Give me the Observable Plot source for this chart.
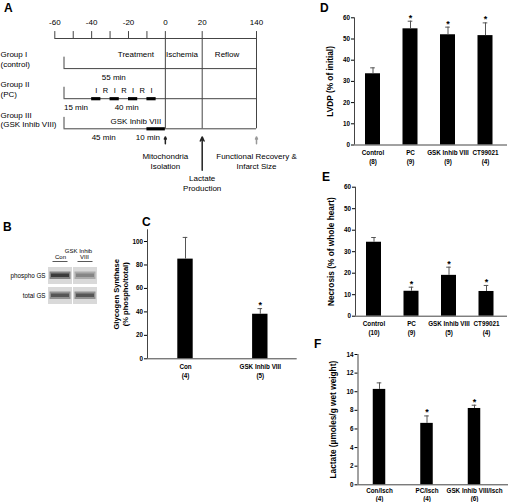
<!DOCTYPE html>
<html><head><meta charset="utf-8">
<script src="https://cdn.jsdelivr.net/npm/d3@7"></script>
<script src="https://cdn.jsdelivr.net/npm/@observablehq/plot@0.6"></script>
<style>
html,body{margin:0;padding:0;background:#fff;}
#fig{position:relative;width:508px;height:502px;overflow:hidden;background:#fff;font-family:"Liberation Sans",Arial,Helvetica,sans-serif;}
.letter{position:absolute;font:bold 12px/12px "Liberation Sans",Arial,sans-serif;color:#000;}
</style></head><body><div id="fig"></div>
<script>
// ---------- Panel A: protocol timeline ----------
const timelineTicks = [-60, -50, -40, -30, -20, -10, 0, 20, 140];
const timelineLabels = [-60, -40, -20, 0, 20, 140];
const phaseLines = [0, 20, 140];
const groupNames = ["Group I\n(control)", "Group II\n(PC)", "Group III\n(GSK Inhib VIII)"];
const groupRows = [1, 2, 3];
const protocolStart = -55, protocolEnd = 140;
const pcIschemiaStarts = [-40, -30, -20, -10];
const pcCycleLabels = ["I", "R", "I", "R", "I", "R", "I"];
const pcCycleTimes = [-37.5, -32.5, -27.5, -22.5, -17.5, -12.5, -7.5];
const gskStart = -10, gskEnd = 0;
const phaseNames = ["Treatment", "Ischemia", "Reflow"];
const phaseTimes = [-16, 9, 75];
const durationLabels = ["55 min", "15 min", "40 min", "45 min", "10 min"];
const durationTimes = [-28, -48.5, -21, -33.5, -9.5];
const durationRows = [1, 2, 2, 3, 3];
const endpointLabels = ["Mitochondria\nIsolation", "Lactate\nProduction", "Functional Recovery &\nInfarct Size"];
const endpointTimes = [0, 20, 140];

// ---------- Panel B: western blot ----------
const blotLanes = ["Con", "VIII"];
const blotRows = ["phospho GS", "total GS"];
const phosphoGS = [0.85, 0.45];
const totalGS = [0.7, 0.7];

// ---------- Panel C ----------
const gsCats = ["Con", "GSK Inhib VIII"];
const gsN = [4, 5];
const gsMean = [85, 38];
const gsSem = [18.5, 4.8];
const gsSig = [false, true];
const gsTicks = [0, 20, 40, 60, 80, 100];

// ---------- Panel D ----------
const lvdpCats = ["Control", "PC", "GSK Inhib VIII", "CT99021"];
const lvdpN = [8, 9, 9, 4];
const lvdpMean = [33.6, 54.8, 52, 51.6];
const lvdpSem = [2.8, 3.6, 3.6, 6];
const lvdpSig = [false, true, true, true];
const lvdpTicks = [0, 10, 20, 30, 40, 50, 60];

// ---------- Panel E ----------
const necCats = ["Control", "PC", "GSK Inhib VIII", "CT99021"];
const necN = [10, 9, 5, 4];
const necMean = [34.4, 11.6, 19, 11.5];
const necSem = [2.2, 1.9, 3.8, 2.8];
const necSig = [false, true, true, true];
const necTicks = [0, 10, 20, 30, 40, 50, 60];

// ---------- Panel F ----------
const lacCats = ["Con/Isch", "PC/Isch", "GSK Inhib VIII/Isch"];
const lacN = [4, 4, 6];
const lacMean = [10.25, 6.6, 8.2];
const lacSem = [0.7, 0.8, 0.35];
const lacSig = [false, true, true];
const lacTicks = [0, 2, 4, 6, 8, 10, 12, 14];

const FONT = '"Liberation Sans", Arial, Helvetica, sans-serif';
const fig = document.getElementById("fig");
function place(node, left, top) {
  node.style.position = "absolute";
  node.style.left = left + "px";
  node.style.top = top + "px";
  fig.appendChild(node);
}
function letter(t, left, top) {
  const d = document.createElement("div");
  d.className = "letter"; d.textContent = t;
  d.style.left = left + "px"; d.style.top = top + "px";
  fig.appendChild(d);
}

// ----- Panel A -----
{
  const lc = "#444";
  const k = 0.2456; // reflow period drawn compressed (broken time axis)
  const pcBars = pcIschemiaStarts.map(s => ({s, e: s + 5}));
  const durs = durationLabels.map((t, i) => ({t, x: durationTimes[i], r: durationRows[i]}));
  const groups = groupNames.map((t, i) => ({t, r: groupRows[i]}));
  const ends = endpointLabels.map((t, i) => ({t, x: endpointTimes[i], i}));
  const chart = Plot.plot({
    width: 318, height: 200,
    marginLeft: 0, marginRight: 0, marginTop: 0, marginBottom: 0,
    style: {fontFamily: FONT, fontSize: "8px", background: "none", color: "#000", overflow: "visible"},
    x: {type: "linear", transform: t => (t <= 20 ? t : 20 + (t - 20) * k), domain: [-60, 20 + 120 * k], range: [54.3, 256], axis: null},
    y: {type: "linear", domain: [0, 3], range: [38, 128.3], axis: null},
    marks: [
      Plot.ruleY([0], {x1: -60, x2: 140, stroke: lc}),
      Plot.ruleX(timelineTicks, {x: d => d, y1: 0, y2: -0.23, stroke: lc}),
      Plot.text(timelineLabels, {x: d => d, y: 0, dy: -16.5, text: d => String(d), fontSize: 8}),
      Plot.ruleX(phaseLines, {x: d => d, y1: 0, y2: 3, stroke: lc}),
      Plot.ruleY(groupRows, {y: d => d, x1: protocolStart, x2: protocolEnd, stroke: lc}),
      Plot.ruleX(groupRows, {x: protocolStart, y1: d => d - 0.38, y2: d => d, stroke: lc}),
      Plot.ruleY(pcBars, {y: 2, x1: "s", x2: "e", stroke: "#000", strokeWidth: 3.2}),
      Plot.ruleY([{s: gskStart, e: gskEnd}], {y: 3, x1: "s", x2: "e", stroke: "#000", strokeWidth: 3.2}),
      Plot.text(pcCycleLabels, {x: (d, i) => pcCycleTimes[i], y: 2, dy: -8.5, text: d => d, fontSize: 7.5}),
      Plot.text(phaseNames, {x: (d, i) => phaseTimes[i], y: 1, dy: -14.5, text: d => d, fontSize: 8}),
      Plot.text(durs, {x: "x", y: "r", dy: 8.5, text: "t", fontSize: 8}),
      Plot.text(["GSK Inhib VIII"], {x: -16, y: 3, dy: -7.5, text: d => d, fontSize: 8}),
      Plot.text(groups, {y: "r", frameAnchor: "left", textAnchor: "start", dy: -9.5, text: "t", fontSize: 8, lineHeight: 1.25}),
      Plot.arrow(ends.filter(d => d.i === 0), {x1: "x", x2: "x", y1: 3.5, y2: 3.27, stroke: "#222", headLength: 4.5, headAngle: 50}),
      Plot.arrow(ends.filter(d => d.i === 1), {x1: "x", x2: "x", y1: 4.38, y2: 3.27, stroke: "#222", headLength: 4.5, headAngle: 50}),
      Plot.arrow(ends.filter(d => d.i === 2), {x1: "x", x2: "x", y1: 3.5, y2: 3.27, stroke: "#999", headLength: 4.5, headAngle: 50}),
      Plot.text(ends.filter(d => d.i !== 1), {x: "x", y: 3, dy: 23.5, text: "t", lineAnchor: "top", lineHeight: 1.25, fontSize: 8}),
      Plot.text(ends.filter(d => d.i === 1), {x: "x", y: 3, dy: 45.5, text: "t", lineAnchor: "top", lineHeight: 1.25, fontSize: 8})
    ]
  });
  place(chart, 0, 0);
}

// ----- Panel B -----
{
  const cells = [];
  blotLanes.forEach((lane, i) => {
    cells.push({lane, row: "phospho GS", v: phosphoGS[i]});
    cells.push({lane, row: "total GS", v: totalGS[i]});
  });
  const shade = d3.interpolateRgb("#dadada", "#1e1e1e");
  const chart = Plot.plot({
    width: 110, height: 74,
    marginLeft: 0, marginRight: 0, marginTop: 0, marginBottom: 0,
    style: {fontFamily: FONT, fontSize: "6px", background: "none", color: "#000", overflow: "visible"},
    x: {type: "band", domain: blotLanes, range: [48, 97], paddingInner: 0.04, paddingOuter: 0, axis: null},
    y: {type: "band", domain: ["hdr", ...blotRows], range: [10.5, 69], paddingInner: 0.15, paddingOuter: 0, axis: null},
    marks: [
      Plot.cell(cells, {x: "lane", y: "row", fill: "#d9d9d9"}),
      Plot.cell(cells, {x: "lane", y: "row", fill: d => shade(d.v * 0.55), insetTop: 4.5, insetBottom: 5, insetLeft: 1.5, insetRight: 1.5}),
      Plot.cell(cells, {x: "lane", y: "row", fill: d => shade(d.v), insetTop: 6.5, insetBottom: 7, insetLeft: 3, insetRight: 3}),
      Plot.cell(blotLanes, {x: d => d, y: () => "hdr", fill: "#111", insetTop: 14.3, insetBottom: 2, insetLeft: 4.5, insetRight: 4.5}),
      Plot.text(["Con"], {x: d => d, y: () => "hdr", dy: 1.5, text: d => d, fontSize: 6}),
      Plot.text(["VIII"], {x: () => "VIII", y: () => "hdr", dy: 1.5, dx: -1, text: d => d, fontSize: 6}),
      Plot.text(["GSK Inhib"], {x: () => "VIII", y: () => "hdr", dy: -5.3, dx: -7, text: d => d, fontSize: 6}),
      Plot.text(blotRows, {y: d => d, frameAnchor: "left", dx: 45, textAnchor: "end", text: d => d, fontSize: 6.3})
    ]
  });
  place(chart, 0, 236);
}

// ----- Bar panels helper -----
function barPanel(o) {
  const mL = o.axisX - o.left, mR = o.left + o.width - o.axisRight;
  const mT = o.yTop - o.top, mB = o.top + o.height - o.y0;
  const x0 = (o.axisX - o.firstCenter) / o.step, x1 = (o.axisRight - o.firstCenter) / o.step;
  const hw = o.barW / 2 / o.step, cap = 2.3 / o.step;
  const data = o.cats.map((c, i) => ({i, cat: c, n: o.n[i], m: o.mean[i], e: o.mean[i] + o.sem[i], s: o.sig[i]}));
  const chart = Plot.plot({
    width: o.width, height: o.height,
    marginLeft: mL, marginRight: mR, marginTop: mT, marginBottom: mB,
    style: {fontFamily: FONT, fontSize: "6.3px", fontWeight: "bold", background: "none", color: "#000", overflow: "visible"},
    x: {domain: [x0, x1], axis: null},
    y: {domain: [0, o.yMax], ticks: o.ticks, tickSize: 3, tickPadding: 1.5, label: null, tickFormat: d => String(d)},
    marks: [
      Plot.rect(data, {x1: d => d.i - hw, x2: d => d.i + hw, y1: 0, y2: "m", fill: "#000"}),
      Plot.ruleX(data, {x: "i", y1: "m", y2: "e", stroke: "#555"}),
      Plot.ruleY(data, {y: "e", x1: d => d.i - cap, x2: d => d.i + cap, stroke: "#555"}),
      Plot.text(data.filter(d => d.s), {x: "i", y: "e", text: () => "*", dy: -3.5, fontSize: 9}),
      Plot.ruleX([x0], {y1: 0, y2: o.yMax, stroke: "#444"}),
      Plot.ruleY([0], {stroke: "#444"}),
      Plot.text(data, {x: "i", y: 0, text: d => `${d.cat}\n(${d.n})`, lineAnchor: "top", dy: o.labelDy, lineHeight: o.labelLH, fontSize: 6.3}),
      Plot.text([o.ylabel], {frameAnchor: "left", textAnchor: "middle", rotate: -90, dx: o.labelX - o.axisX, text: d => d, fontSize: o.labelSize, lineHeight: 1.2})
    ]
  });
  place(chart, o.left, o.top);
}

barPanel({cats: gsCats, n: gsN, mean: gsMean, sem: gsSem, sig: gsSig, yMax: 110, ticks: gsTicks,
  ylabel: "Glycogen Synthase\n(% phospho/total)",
  left: 100, top: 215, width: 205, height: 190, axisX: 147, axisRight: 296.7, yTop: 229.3, y0: 358.3,
  firstCenter: 185, step: 74.8, barW: 15.4, labelDy: 4, labelLH: 1.4, labelX: 120.5, labelSize: 7.6});

barPanel({cats: lvdpCats, n: lvdpN, mean: lvdpMean, sem: lvdpSem, sig: lvdpSig, yMax: 60, ticks: lvdpTicks,
  ylabel: "LVDP (% of initial)",
  left: 318, top: 0, width: 190, height: 170, axisX: 354, axisRight: 507, yTop: 17.3, y0: 144.5,
  firstCenter: 372.5, step: 37.5, barW: 15, labelDy: 4, labelLH: 1.4, labelX: 329, labelSize: 8.3});

barPanel({cats: necCats, n: necN, mean: necMean, sem: necSem, sig: necSig, yMax: 60, ticks: necTicks,
  ylabel: "Necrosis (% of whole heart)",
  left: 318, top: 170, width: 190, height: 170, axisX: 355, axisRight: 507, yTop: 186.7, y0: 315.7,
  firstCenter: 373.5, step: 37.5, barW: 15, labelDy: 3.5, labelLH: 1.4, labelX: 330, labelSize: 8.3});

barPanel({cats: lacCats, n: lacN, mean: lacMean, sem: lacSem, sig: lacSig, yMax: 14, ticks: lacTicks,
  ylabel: "Lactate (\u00b5moles/g wet weight)",
  left: 318, top: 340, width: 190, height: 162, axisX: 357.5, axisRight: 508, yTop: 354, y0: 484.3,
  firstCenter: 379, step: 47.5, barW: 12.5, labelDy: 2.3, labelLH: 1.3, labelX: 332, labelSize: 8.3});

letter("A", 4, 2);
letter("B", 3, 221);
letter("C", 142, 216);
letter("D", 320, 2);
letter("E", 322, 171);
letter("F", 314, 338);
</script></body></html>
